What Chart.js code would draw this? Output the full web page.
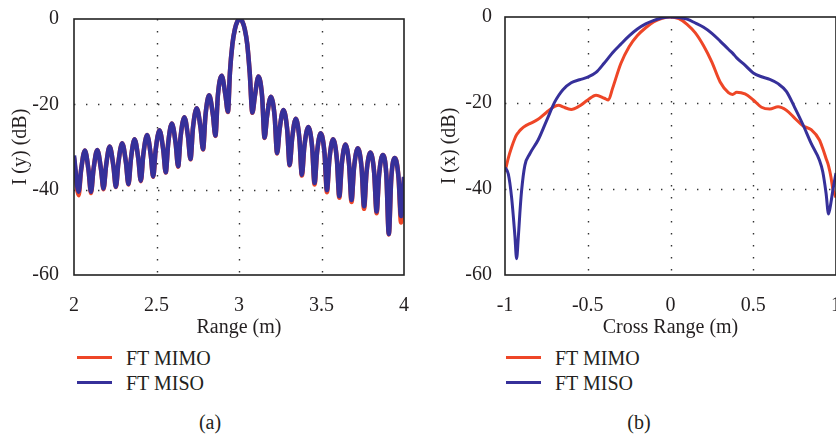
<!DOCTYPE html>
<html>
<head>
<meta charset="utf-8">
<script src="https://cdn.jsdelivr.net/npm/chart.js@4.4.1/dist/chart.umd.min.js"></script>
<style>
  body { margin: 0; width: 836px; height: 436px; overflow: hidden; background: #fff; position: relative;
         font-family: 'Liberation Serif', 'Times New Roman', serif; color: #231f20; }
  canvas { position: absolute; top: 0; }
  .legend-row { position: absolute; height: 24px; line-height: 24px; font-size: 20px; white-space: nowrap; }
  .legend-row .swatch { position: absolute; top: 10px; width: 35px; height: 3px; }
  .legend-row .txt { position: absolute; }
  .caption { position: absolute; top: 410px; width: 60px; margin-left: -30px; text-align: center;
             font-size: 20px; line-height: 24px; }
</style>
</head>
<body>
<canvas id="rangeChart" width="420" height="345" style="left:0"></canvas>
<canvas id="crossChart" width="440" height="345" style="left:420px"></canvas>

<div class="legend-row" style="left:77px; top:346px"><span class="swatch" style="left:0; background:#EE4627"></span><span class="txt" style="left:49px">FT MIMO</span></div>
<div class="legend-row" style="left:77px; top:371px"><span class="swatch" style="left:0; background:#36309A"></span><span class="txt" style="left:49px">FT MISO</span></div>
<div class="legend-row" style="left:506px; top:346px"><span class="swatch" style="left:0; background:#EE4627"></span><span class="txt" style="left:49px">FT MIMO</span></div>
<div class="legend-row" style="left:506px; top:371px"><span class="swatch" style="left:0; background:#36309A"></span><span class="txt" style="left:49px">FT MISO</span></div>

<div class="caption" style="left:210px">(a)</div>
<div class="caption" style="left:639px">(b)</div>

<script>
// range profile I(y), dB
const rangeX = [
  2.000, 2.028, 2.043, 2.066, 2.088,
  2.103, 2.118, 2.141, 2.164,
  2.179, 2.194, 2.216, 2.239,
  2.254, 2.269, 2.292, 2.315,
  2.330, 2.345, 2.367, 2.390,
  2.405, 2.420, 2.443, 2.465,
  2.480, 2.495, 2.518, 2.541,
  2.556, 2.571, 2.593, 2.616,
  2.631, 2.646, 2.669, 2.691,
  2.706, 2.721, 2.744, 2.767,
  2.782, 2.797, 2.819, 2.842,
  2.857, 2.872, 2.895, 2.918,
  2.933, 2.945, 2.960, 2.975, 2.990, 3.005, 3.020, 3.035, 3.050, 3.065,
  3.081, 3.096, 3.118, 3.140,
  3.155, 3.170, 3.193, 3.216,
  3.231, 3.246, 3.269, 3.292,
  3.307, 3.322, 3.344, 3.366,
  3.381, 3.396, 3.420, 3.443,
  3.458, 3.473, 3.495, 3.518,
  3.533, 3.548, 3.570, 3.593,
  3.608, 3.623, 3.645, 3.667,
  3.682, 3.697, 3.720, 3.743,
  3.758, 3.773, 3.796, 3.819,
  3.834, 3.849, 3.871, 3.893,
  3.908, 3.923, 3.945, 3.967,
  3.982, 4.000
];
const misoRange = [
  -32.0, -40.5, -35.4, -30.8, -35.4,
  -40.5, -35.3, -30.7, -35.3,
  -39.7, -34.5, -29.9, -34.5,
  -39.3, -33.7, -29.1, -33.7,
  -38.7, -32.8, -28.2, -32.8,
  -37.9, -31.8, -27.2, -31.8,
  -36.9, -30.7, -26.1, -30.7,
  -35.9, -29.1, -24.5, -29.1,
  -34.5, -27.6, -23.0, -27.6,
  -32.8, -25.5, -20.9, -25.5,
  -30.5, -22.5, -17.9, -22.5,
  -27.3, -17.9, -13.3, -17.9,
  -21.7, -12.6, -5.9, -2.4, -0.6, 0, -0.6, -2.4, -5.9, -12.6,
  -21.9, -18.1, -13.5, -18.1,
  -27.8, -22.8, -18.2, -22.8,
  -31.4, -25.9, -21.3, -25.9,
  -34.2, -28.0, -23.4, -28.0,
  -36.5, -29.9, -25.3, -29.9,
  -38.4, -31.3, -26.8, -31.3,
  -40.1, -32.8, -28.2, -32.8,
  -41.5, -34.0, -29.4, -34.0,
  -42.4, -34.9, -30.3, -34.9,
  -43.9, -35.9, -31.3, -35.9,
  -45.1, -36.5, -31.9, -36.5,
  -50.4, -37.2, -32.6, -37.2,
  -46.2, -37.0
];
const mimoRange = [
  -32.5, -41.3, -35.4, -30.8, -35.4,
  -40.8, -35.3, -30.7, -35.3,
  -39.9, -34.5, -29.9, -34.5,
  -39.4, -33.7, -29.1, -33.7,
  -38.8, -32.8, -28.2, -32.8,
  -38.0, -31.8, -27.2, -31.8,
  -37.0, -30.7, -26.1, -30.7,
  -36.0, -29.1, -24.5, -29.1,
  -34.6, -27.6, -23.0, -27.6,
  -32.9, -25.5, -20.9, -25.5,
  -30.6, -22.5, -17.9, -22.5,
  -27.4, -17.9, -13.3, -17.9,
  -21.8, -12.6, -5.9, -2.4, -0.6, 0, -0.6, -2.4, -5.9, -12.6,
  -22.0, -18.1, -13.5, -18.1,
  -27.9, -22.8, -18.2, -22.8,
  -31.5, -25.9, -21.3, -25.9,
  -34.3, -28.0, -23.4, -28.0,
  -36.7, -29.9, -25.3, -29.9,
  -38.8, -31.3, -26.8, -31.3,
  -40.6, -32.8, -28.2, -32.8,
  -41.9, -34.0, -29.4, -34.0,
  -42.9, -34.9, -30.3, -34.9,
  -44.5, -35.9, -31.3, -35.9,
  -45.5, -36.5, -31.9, -36.5,
  -50.5, -37.2, -32.6, -37.2,
  -47.7, -37.2
];

// cross-range profile I(x), dB
const crossX = [
  -1, -0.98, -0.96, -0.94, -0.93, -0.92, -0.91, -0.9, -0.88, -0.85,
  -0.8, -0.75, -0.7, -0.675, -0.65, -0.6, -0.55, -0.5, -0.45, -0.4,
  -0.375, -0.35, -0.3, -0.25, -0.2, -0.15, -0.1, -0.05, 0,
  0.05, 0.1, 0.15, 0.2, 0.25, 0.3, 0.35, 0.375, 0.4, 0.45,
  0.5, 0.55, 0.6, 0.65, 0.7, 0.75, 0.8, 0.85, 0.9, 0.92,
  0.94, 0.955, 0.97, 0.98, 1
];
const mimoCross = [
  -36.0, -32.8, -30.3, -28.2, -27.4, -26.9, -26.4, -26.0, -25.4, -24.8,
  -23.8, -22.2, -20.8, -20.5, -20.9, -21.5, -20.7, -19.3, -18.2, -18.9,
  -19.3, -16.6, -10.8, -6.9, -4.3, -2.5, -1.1, -0.3, 0,
  -0.4, -1.7, -3.7, -6.7, -10.5, -15.1, -17.6, -18.0, -17.5, -17.9,
  -19.3, -21.0, -21.4, -20.9, -21.7, -23.5, -25.3, -26.2, -28.6, -30.6,
  -32.9, -34.6, -37.3, -39.8, -42.0
];
const misoCross = [
  -35.0, -36.5, -42.0, -51.0, -56.2, -51.5, -45.5, -40.5, -34.5, -31.8,
  -28.6, -24.2, -19.8, -18.2, -16.9, -15.3, -14.6, -14.0, -12.9, -10.7,
  -9.5, -8.3, -6.3, -4.4, -2.8, -1.6, -0.8, -0.2, 0,
  -0.1, -0.5, -1.4, -2.4, -3.8, -5.6, -7.5, -8.4, -9.5, -11.2,
  -13.0, -13.9, -14.5, -15.5, -17.3, -21.0, -25.0, -29.4, -33.3, -36.0,
  -41.0, -45.8, -43.0, -40.5, -36.3
];

const rangeTicks = [2, 2.5, 3, 3.5, 4];
const crossTicks = [-1, -0.5, 0, 0.5, 1];
const dbTicks = [-60, -40, -20, 0];

const RED = '#EE4627';
const BLUE = '#36309A';
const INK = '#231f20';

Chart.defaults.font.family = "'Liberation Serif', 'Times New Roman', serif";
Chart.defaults.color = INK;

// dotted grid on the inner ticks + solid box round the plot area
const frameGrid = {
  id: 'frameGrid',
  beforeDatasetsDraw(chart, args, opts) {
    const { ctx, chartArea: a, scales: { x, y } } = chart;
    ctx.save();
    ctx.strokeStyle = '#333';
    ctx.lineWidth = 1.4;
    ctx.setLineDash([1.4, 10.6]);
    for (const v of opts.xGrid) {
      const px = Math.round(x.getPixelForValue(v)) + 0.5;
      ctx.beginPath(); ctx.moveTo(px, a.top); ctx.lineTo(px, a.bottom); ctx.stroke();
    }
    for (const v of opts.yGrid) {
      const py = Math.round(y.getPixelForValue(v)) + 0.5;
      ctx.beginPath(); ctx.moveTo(a.left, py); ctx.lineTo(a.right, py); ctx.stroke();
    }
    ctx.restore();
  },
  afterDatasetsDraw(chart) {
    const { ctx, chartArea: a } = chart;
    ctx.save();
    ctx.strokeStyle = '#222';
    ctx.lineWidth = 1.6;
    ctx.strokeRect(a.left, a.top, a.right - a.left, a.bottom - a.top);
    ctx.restore();
  }
};

// plain numbers, no forced decimals ("2", "2.5", "-1")
const plainLabel = v => String(v);

function makeProfile(canvasId, xs, mimo, miso, opt) {
  return new Chart(document.getElementById(canvasId), {
    type: 'line',
    data: {
      datasets: [
        {
          label: 'FT MIMO',
          data: xs.map((x, i) => ({ x: x, y: mimo[i] })),
          borderColor: RED,
          borderWidth: opt.lineWidth,
          order: 1
        },
        {
          label: 'FT MISO',
          data: xs.map((x, i) => ({ x: x, y: miso[i] })),
          borderColor: BLUE,
          borderWidth: opt.lineWidth,
          order: 0
        }
      ]
    },
    options: {
      responsive: false,
      animation: false,
      events: [],
      elements: {
        point: { radius: 0 },
        line: { cubicInterpolationMode: 'monotone', fill: false }
      },
      layout: { padding: { left: 0, top: 14, right: opt.padRight, bottom: 0 } },
      plugins: {
        legend: { display: false },
        tooltip: { enabled: false },
        frameGrid: { xGrid: opt.ticks.slice(1, -1), yGrid: dbTicks.slice(1, -1) }
      },
      scales: {
        x: {
          type: 'linear',
          min: opt.ticks[0],
          max: opt.ticks[opt.ticks.length - 1],
          grid: { display: false },
          border: { display: false },
          afterBuildTicks: s => { s.ticks = opt.ticks.map(v => ({ value: v })); },
          ticks: { padding: 11, font: { size: 20 }, maxRotation: 0, autoSkip: false, callback: plainLabel },
          title: { display: true, text: opt.xTitle, font: { size: 20 }, padding: { top: 0, bottom: 5 } },
          afterFit: s => { s.height = 70; }
        },
        y: {
          type: 'linear',
          min: -60,
          max: 0,
          grid: { display: false },
          border: { display: false },
          afterBuildTicks: s => { s.ticks = dbTicks.map(v => ({ value: v })); },
          ticks: { padding: opt.yPad, font: { size: 20 }, callback: plainLabel },
          title: { display: true, text: opt.yTitle, font: { size: 20 }, padding: { top: opt.yTitlePad, bottom: 0 } },
          afterFit: s => { s.width = opt.yWidth; }
        }
      }
    },
    plugins: [frameGrid]
  });
}

makeProfile('rangeChart', rangeX, mimoRange, misoRange, {
  ticks: rangeTicks, xTitle: 'Range (m)', yTitle: 'I (y) (dB)',
  lineWidth: 4.5, padRight: 13, yWidth: 74, yPad: 7, yTitlePad: 9
});

makeProfile('crossChart', crossX, mimoCross, misoCross, {
  ticks: crossTicks, xTitle: 'Cross Range (m)', yTitle: 'I (x) (dB)',
  lineWidth: 3, padRight: 24, yWidth: 85, yPad: 5, yTitlePad: 18
});
</script>
</body>
</html>
